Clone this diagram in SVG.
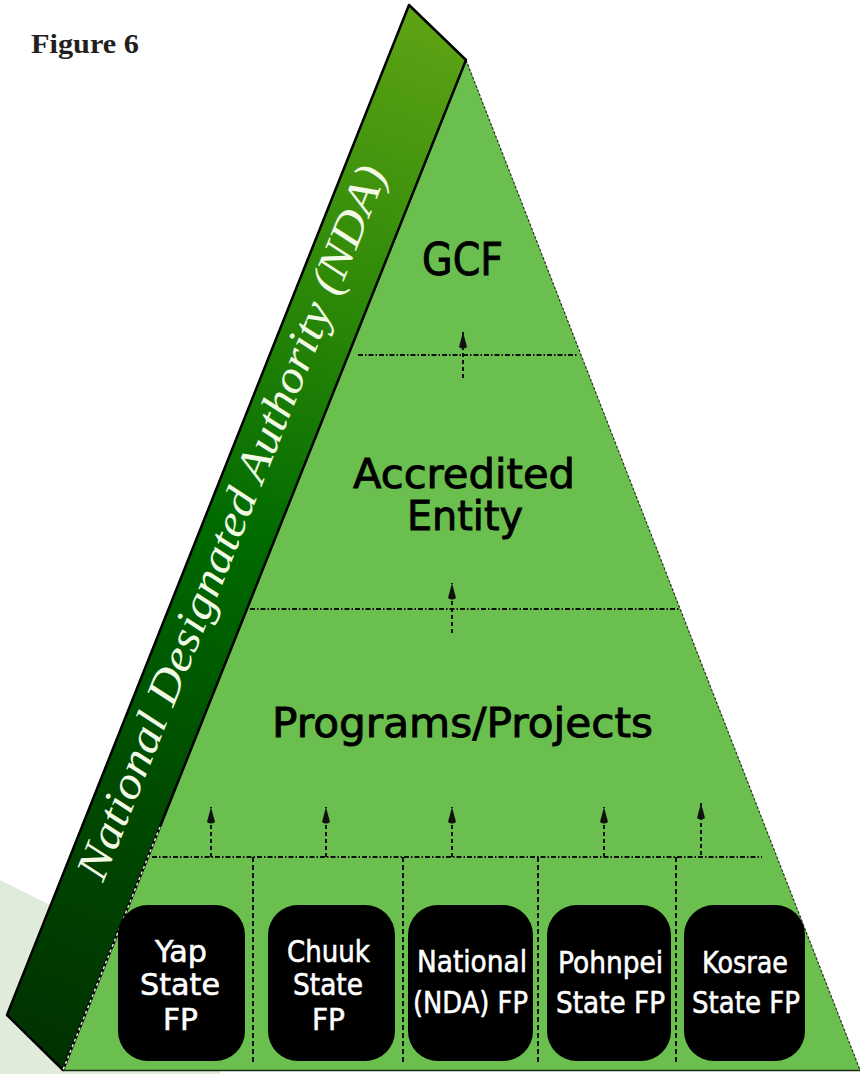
<svg xmlns="http://www.w3.org/2000/svg" width="864" height="1074" viewBox="0 0 864 1074">
  <style>
    .lbl { font-family: "DejaVu Sans", "Liberation Sans", sans-serif; fill: #000; stroke: #000; stroke-width: 0.9; text-anchor: middle; }
    .box { fill: #000; }
    .btxt { font-family: "DejaVu Sans", "Liberation Sans", sans-serif; fill: #fff; stroke: #fff; stroke-width: 0.6; font-size: 31px; text-anchor: middle; }
    .dot { stroke: #111; stroke-width: 2; stroke-dasharray: 5 2 1.5 2; fill: none; }
    .vdash { stroke: #111; stroke-width: 2; stroke-dasharray: 5 3; fill: none; }
    .stem { stroke: #111; stroke-width: 2; stroke-dasharray: 4 3; fill: none; }
  </style>
  <defs>
    <linearGradient id="bandGrad" gradientUnits="userSpaceOnUse" x1="437" y1="30" x2="35" y2="1040">
      <stop offset="0" stop-color="#5ca214"/>
      <stop offset="0.25" stop-color="#2f8a08"/>
      <stop offset="0.5" stop-color="#006a00"/>
      <stop offset="0.75" stop-color="#004b00"/>
      <stop offset="1" stop-color="#003300"/>
    </linearGradient>
    <marker id="ah" markerUnits="userSpaceOnUse" markerWidth="18" markerHeight="10" refX="18" refY="5" orient="auto" viewBox="0 0 18 10">
      <path d="M18,5 L3,1 Q0,5 3,9 Z" fill="#111"/>
    </marker>
  </defs>

  <rect x="0" y="0" width="864" height="1074" fill="#ffffff"/>
  <polygon points="0,880 220,990 220,1074 0,1074" fill="#e1ebdc"/>

  <text x="31" y="53" font-family="Liberation Serif, serif" font-weight="bold" font-size="28" fill="#231f20" textLength="108" lengthAdjust="spacingAndGlyphs">Figure 6</text>

  <g id="pyramid">
    <polygon points="466,60 860,1070 63,1070" fill="#6abf4e"/>
    <line x1="466" y1="60" x2="860" y2="1070" stroke="#2a3a22" stroke-width="1.2" stroke-dasharray="3 1.5"/>
    <line x1="63" y1="1070.5" x2="860" y2="1070.5" stroke="#1a2a14" stroke-width="1.5"/>
  </g>

  <g id="nda-band">
    <polygon points="409,5 466,60 63,1070 7,1015" fill="url(#bandGrad)" stroke="#000" stroke-width="2.5" stroke-linejoin="round"/>
    <line x1="160" y1="827" x2="63" y2="1070" stroke="#e8e8e8" stroke-width="1.5" stroke-dasharray="3 3"/>
    <text transform="translate(103,883) rotate(-68.2)" x="0" y="0" font-family="Liberation Serif, serif" font-style="italic" font-size="45" fill="#f2fae6" textLength="765" lengthAdjust="spacingAndGlyphs">National Designated Authority (NDA)</text>
  </g>

  <g id="connectors">
    <line class="dot" x1="358" y1="355" x2="578" y2="355"/>
    <line class="dot" x1="250" y1="609" x2="680" y2="609"/>
    <line class="dot" x1="152" y1="857" x2="762" y2="857"/>

    <line class="stem" x1="463" y1="378" x2="463" y2="332" marker-end="url(#ah)"/>
    <line class="stem" x1="452" y1="633" x2="452" y2="583" marker-end="url(#ah)"/>
    <line class="stem" x1="211" y1="857" x2="211" y2="807" marker-end="url(#ah)"/>
    <line class="stem" x1="326" y1="857" x2="326" y2="807" marker-end="url(#ah)"/>
    <line class="stem" x1="452" y1="857" x2="452" y2="807" marker-end="url(#ah)"/>
    <line class="stem" x1="604" y1="857" x2="604" y2="807" marker-end="url(#ah)"/>
    <line class="stem" x1="701" y1="855" x2="701" y2="803" marker-end="url(#ah)"/>

    <line class="vdash" x1="253" y1="857" x2="253" y2="1064"/>
    <line class="vdash" x1="403" y1="857" x2="403" y2="1064"/>
    <line class="vdash" x1="538" y1="857" x2="538" y2="1064"/>
    <line class="vdash" x1="676" y1="857" x2="676" y2="1064"/>
  </g>

  <g id="gcf">
    <text class="lbl" x="462.5" y="275" font-size="44" textLength="81" lengthAdjust="spacingAndGlyphs">GCF</text>
  </g>
  <g id="accredited-entity">
    <text class="lbl" x="464" y="488" font-size="40" textLength="222" lengthAdjust="spacingAndGlyphs">Accredited</text>
    <text class="lbl" x="465" y="530" font-size="40" textLength="116" lengthAdjust="spacingAndGlyphs">Entity</text>
  </g>
  <g id="programs-projects">
    <text class="lbl" x="462.5" y="737" font-size="41" textLength="381" lengthAdjust="spacingAndGlyphs">Programs/Projects</text>
  </g>

  <g id="yap">
    <rect class="box" x="118" y="905" width="127" height="156" rx="30"/>
    <text class="btxt" x="181" y="962" textLength="52" lengthAdjust="spacingAndGlyphs">Yap</text>
    <text class="btxt" x="180" y="995" textLength="80" lengthAdjust="spacingAndGlyphs">State</text>
    <text class="btxt" x="180.5" y="1030" textLength="35" lengthAdjust="spacingAndGlyphs">FP</text>
  </g>
  <g id="chuuk">
    <rect class="box" x="268" y="905" width="127" height="156" rx="30"/>
    <text class="btxt" x="328.5" y="962" textLength="83" lengthAdjust="spacingAndGlyphs">Chuuk</text>
    <text class="btxt" x="328" y="995" textLength="70" lengthAdjust="spacingAndGlyphs">State</text>
    <text class="btxt" x="328.5" y="1030" textLength="33" lengthAdjust="spacingAndGlyphs">FP</text>
  </g>
  <g id="national">
    <rect class="box" x="408" y="905" width="125" height="156" rx="30"/>
    <text class="btxt" x="472" y="972" textLength="110" lengthAdjust="spacingAndGlyphs">National</text>
    <text class="btxt" x="470.5" y="1013" textLength="115" lengthAdjust="spacingAndGlyphs">(NDA) FP</text>
  </g>
  <g id="pohnpei">
    <rect class="box" x="547" y="905" width="124" height="156" rx="30"/>
    <text class="btxt" x="610.5" y="973" textLength="105" lengthAdjust="spacingAndGlyphs">Pohnpei</text>
    <text class="btxt" x="610.5" y="1013" textLength="109" lengthAdjust="spacingAndGlyphs">State FP</text>
  </g>
  <g id="kosrae">
    <rect class="box" x="684" y="905" width="121" height="156" rx="30"/>
    <text class="btxt" x="745" y="973" textLength="86" lengthAdjust="spacingAndGlyphs">Kosrae</text>
    <text class="btxt" x="746" y="1013" textLength="108" lengthAdjust="spacingAndGlyphs">State FP</text>
  </g>
</svg>
